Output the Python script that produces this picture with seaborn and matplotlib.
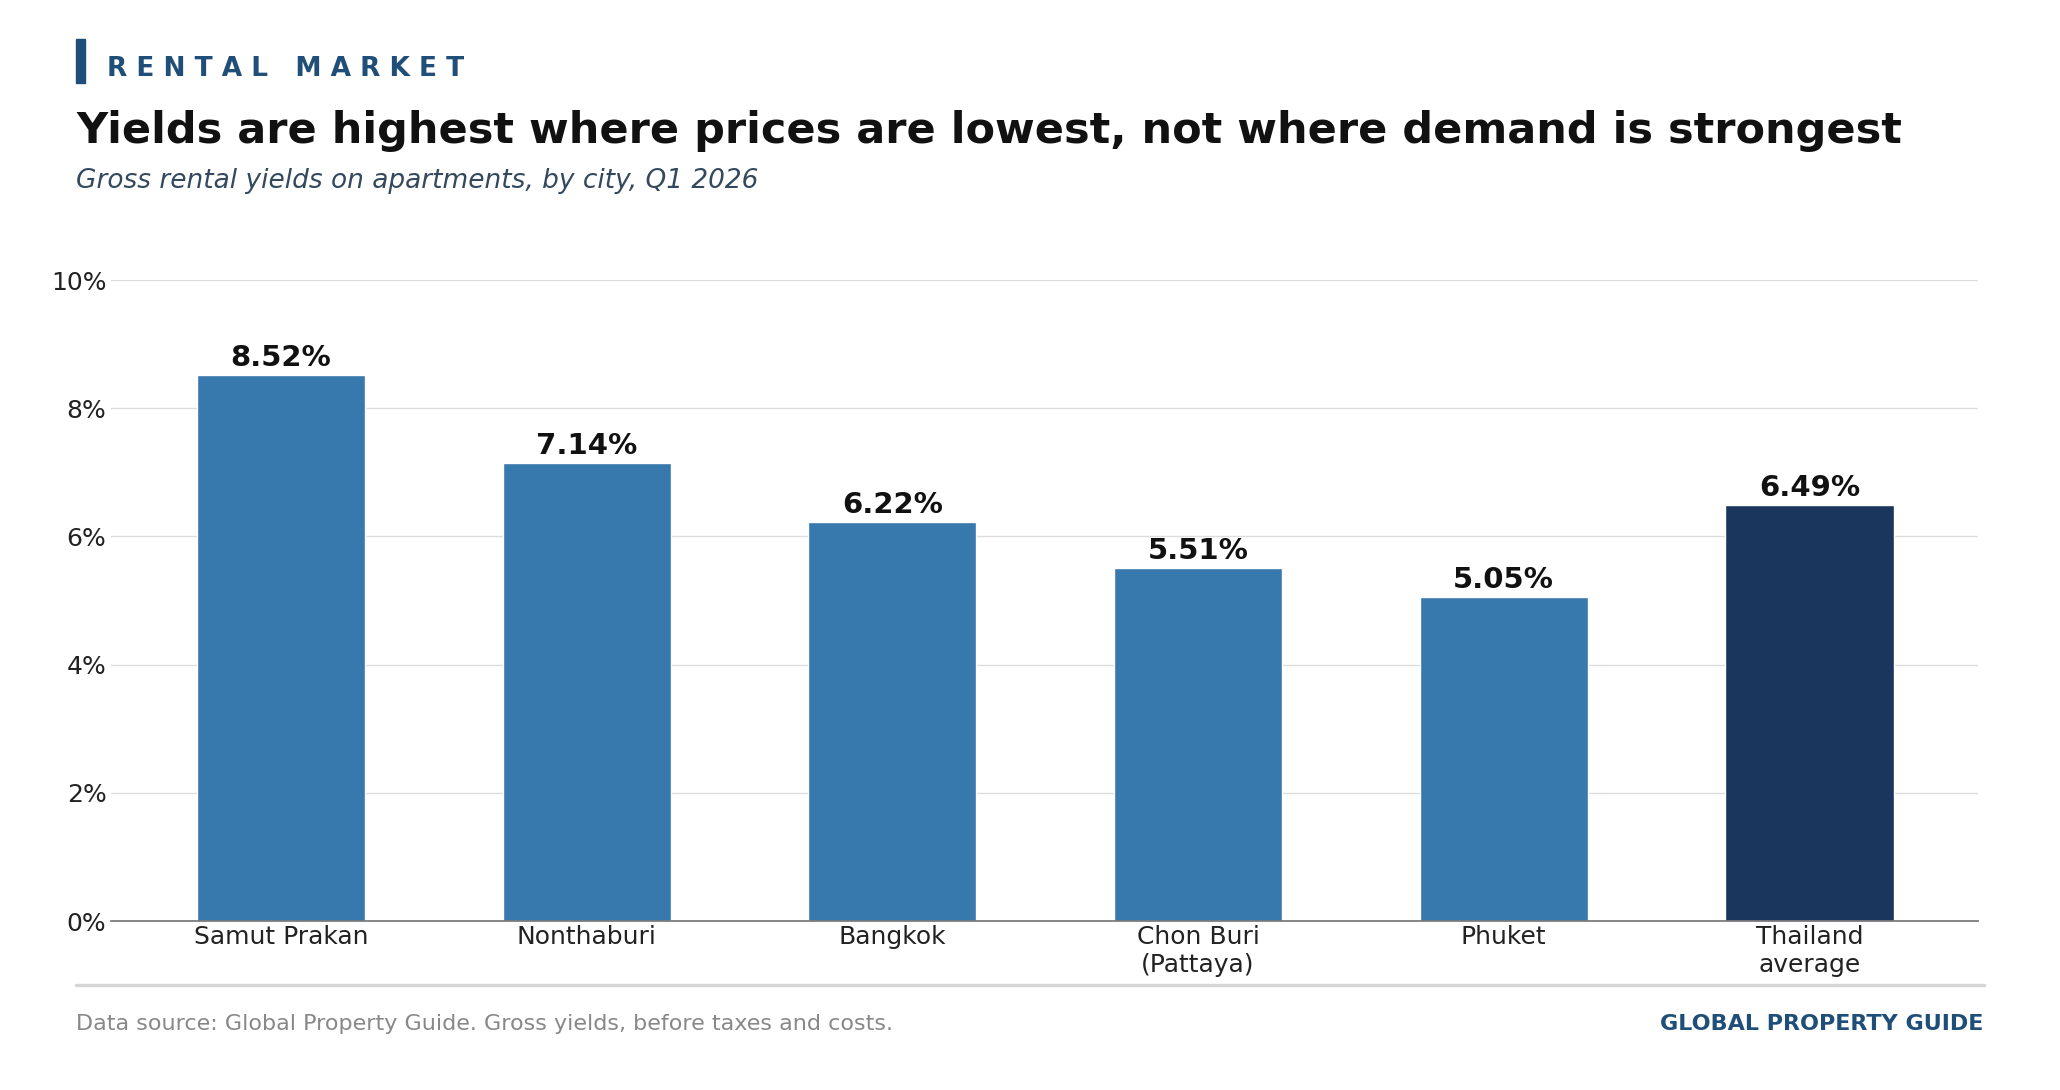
import matplotlib
matplotlib.use("Agg")
import matplotlib.pyplot as plt
import seaborn as sns
import pandas as pd
from matplotlib.ticker import FuncFormatter

cities = ["Samut Prakan", "Nonthaburi", "Bangkok", "Chon Buri\n(Pattaya)", "Phuket", "Thailand\naverage"]
yields = [8.52, 7.14, 6.22, 5.51, 5.05, 6.49]
colors = ["#3778ad"] * 5 + ["#1a365d"]

sns.set_theme(style="white")
plt.rcParams['font.family'] = ['DejaVu Sans']

df = pd.DataFrame({"city": cities, "yield": yields})
fig = plt.figure(figsize=(20.6, 10.9), dpi=100)
ax = fig.add_axes([0.054, 0.155, 0.906, 0.588])
sns.barplot(data=df, x="city", y="yield", hue="city", palette=colors, legend=False,
            width=0.55, saturation=1, ax=ax)
ax.set_ylim(0, 10)
ax.set_xlim(-0.555, 5.55)
ax.set_yticks([0, 2, 4, 6, 8, 10])
ax.yaxis.set_major_formatter(FuncFormatter(lambda v, p: f"{v:.0f}%"))
ax.grid(axis="y", color="#dddddd", linewidth=1)
ax.set_axisbelow(True)
for s in ["top", "right", "left"]:
    ax.spines[s].set_visible(False)
ax.spines["bottom"].set_color("#777777")
ax.set_xlabel(""); ax.set_ylabel("")
ax.tick_params(axis="both", labelsize=18, colors="#222222", length=0)
ax.tick_params(axis="x", pad=3)
for i, v in enumerate(yields):
    ax.text(i, v + 0.05, f"{v:.2f}%", ha="center", va="bottom", fontsize=21, fontweight="bold", color="#111111")

fig.patches.append(plt.Rectangle((0.037, 0.924), 0.0045, 0.04, transform=fig.transFigure, color="#1f4e79"))
fig.text(0.052, 0.937, "R E N T A L   M A R K E T", fontsize=19, fontweight="bold", color="#1f4e79", va="center")
fig.text(0.037, 0.88, "Yields are highest where prices are lowest, not where demand is strongest",
         fontsize=31, fontweight="bold", color="#111111", va="center")
fig.text(0.037, 0.834, "Gross rental yields on apartments, by city, Q1 2026", fontsize=19,
         style="italic", color="#34495e", va="center")
fig.add_artist(plt.Line2D([0.037, 0.963], [0.096, 0.096], transform=fig.transFigure, color="#d5d5d5", linewidth=2.5))
fig.text(0.037, 0.061, "Data source: Global Property Guide. Gross yields, before taxes and costs.",
         fontsize=16, color="#888888", va="center")
fig.text(0.963, 0.061, "GLOBAL PROPERTY GUIDE", fontsize=16, fontweight="bold", color="#1f4e79",
         va="center", ha="right")
fig.savefig("out.png", dpi=100, facecolor="white")
